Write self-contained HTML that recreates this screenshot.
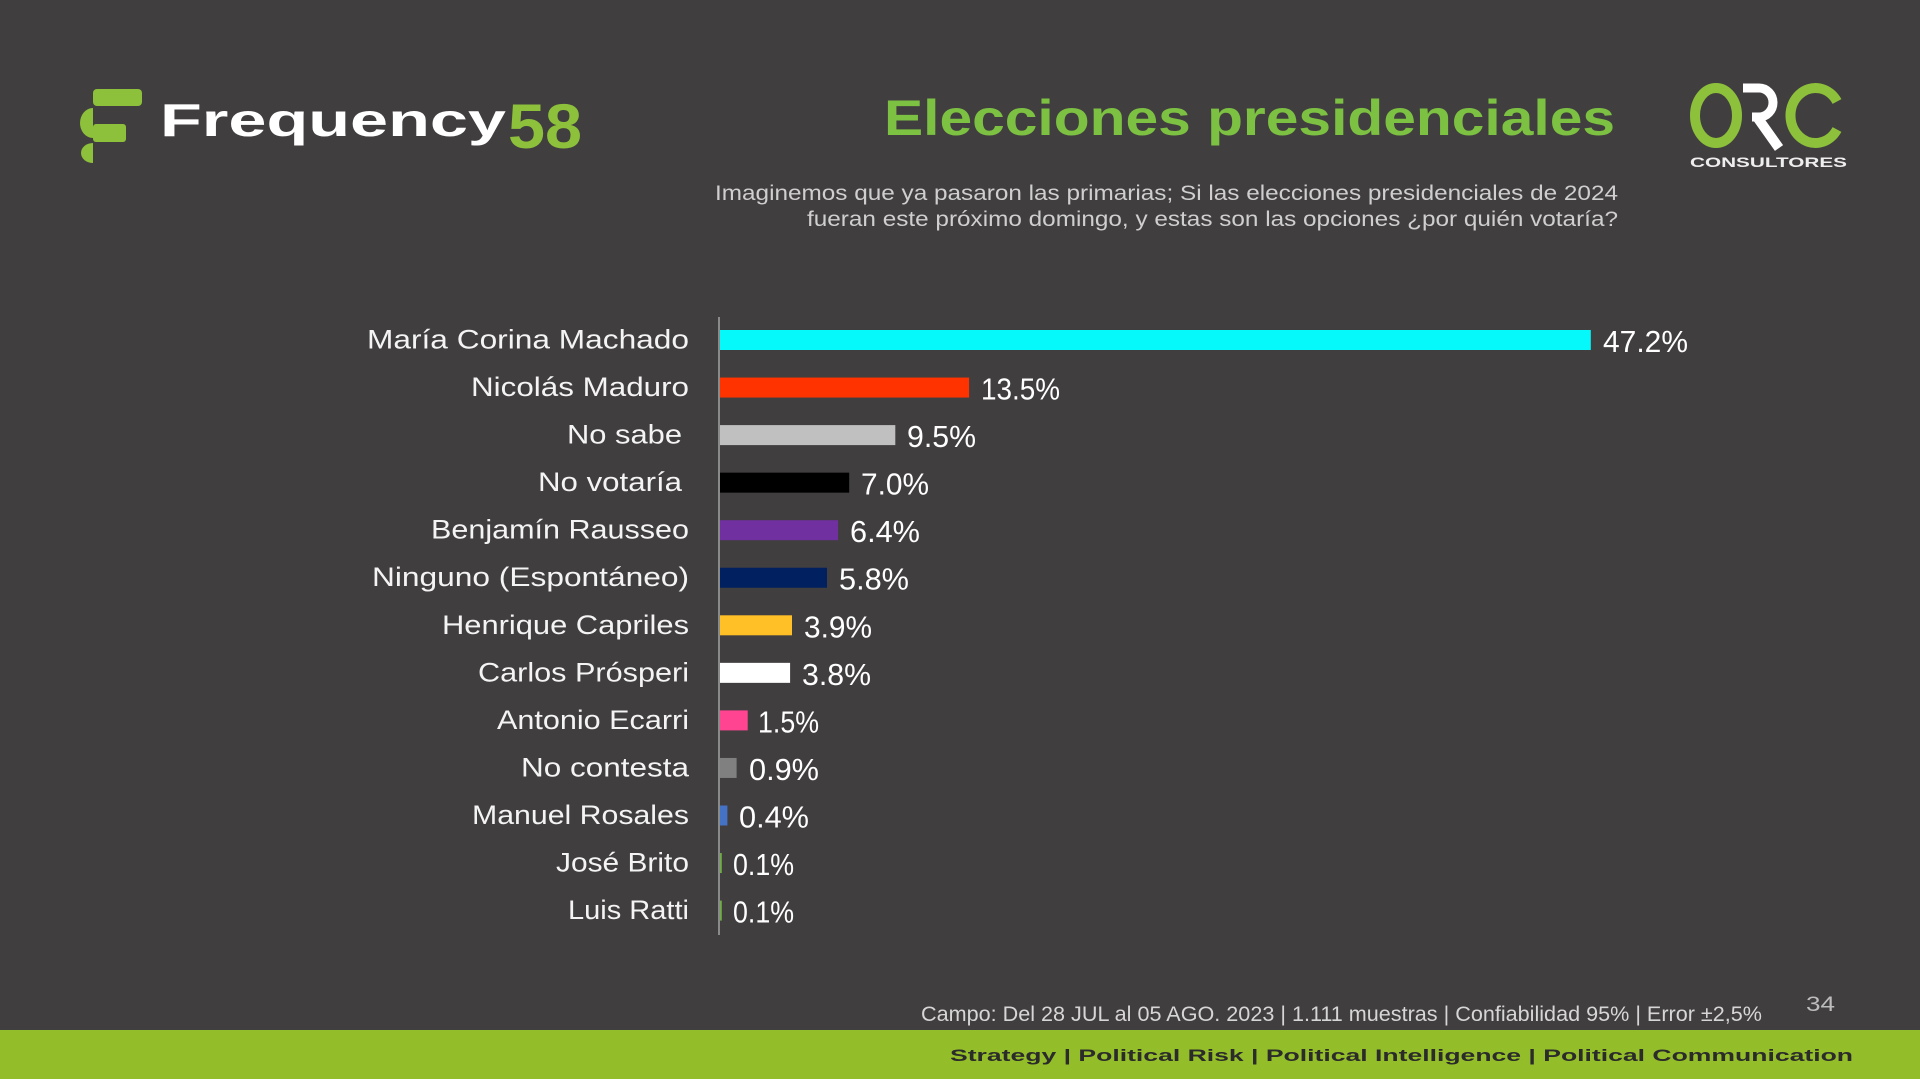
<!DOCTYPE html>
<html>
<head>
<meta charset="utf-8">
<style>
html,body{margin:0;padding:0;background:#413e3f;}
svg{display:block;}
text{font-family:"Liberation Sans",sans-serif;}
</style>
</head>
<body>
<svg width="1920" height="1079" viewBox="0 0 1920 1079" xmlns="http://www.w3.org/2000/svg">
<rect x="0" y="0" width="1920" height="1079" fill="#413e3f"/>

<!-- Frequency58 logo -->
<g fill="#8dc03b">
  <rect x="93" y="89" width="49" height="17" rx="4"/>
  <rect x="93" y="124" width="33" height="18" rx="3"/>
  <path d="M93,108 A13,15 0 0 0 93,138 Z"/>
  <path d="M93,143 A12,10 0 0 0 93,163 Z"/>
</g>
<text x="160" y="136" font-size="46" font-weight="bold" fill="#ffffff" textLength="346" lengthAdjust="spacingAndGlyphs">Frequency</text>
<text x="508" y="148" font-size="63" font-weight="bold" fill="#8dc03b" textLength="74" lengthAdjust="spacingAndGlyphs">58</text>

<!-- Title -->
<text x="1615" y="135" text-anchor="end" font-size="50" font-weight="bold" fill="#7cc142" textLength="731" lengthAdjust="spacingAndGlyphs">Elecciones presidenciales</text>

<!-- Subtitle -->
<text x="1618" y="200" text-anchor="end" font-size="21" fill="#cfcfcf" textLength="903" lengthAdjust="spacingAndGlyphs">Imaginemos que ya pasaron las primarias; Si las elecciones presidenciales de 2024</text>
<text x="1618" y="226" text-anchor="end" font-size="21" fill="#cfcfcf" textLength="811" lengthAdjust="spacingAndGlyphs">fueran este próximo domingo, y estas son las opciones ¿por quién votaría?</text>

<!-- ORC logo -->
<ellipse cx="1716" cy="115.5" rx="21" ry="27.5" fill="none" stroke="#8dc03b" stroke-width="10"/>
<path d="M1743,88 H1759 A14,14.5 0 0 1 1759,117 H1752" fill="none" stroke="#ffffff" stroke-width="9"/>
<path d="M1757,117 L1779,148" fill="none" stroke="#ffffff" stroke-width="10"/>
<path d="M1837,101.5 A25,27.5 0 1 0 1837,129.5" fill="none" stroke="#8dc03b" stroke-width="10"/>
<text x="1690" y="167" font-size="14" font-weight="bold" fill="#eeeeee" textLength="157" lengthAdjust="spacingAndGlyphs">CONSULTORES</text>

<!-- Axis -->
<line x1="719" y1="317" x2="719" y2="935" stroke="#8a8a8a" stroke-width="2"/>

<!-- Bars -->
<rect x="720" y="330" width="870.8" height="20" fill="#05f8fa"/>
<rect x="720" y="377.55" width="249.1" height="20" fill="#ff3300"/>
<rect x="720" y="425.1" width="175.3" height="20" fill="#c0c0c0"/>
<rect x="720" y="472.65" width="129.2" height="20" fill="#000000"/>
<rect x="720" y="520.2" width="118.1" height="20" fill="#7030a0"/>
<rect x="720" y="567.75" width="107.0" height="20" fill="#002060"/>
<rect x="720" y="615.3" width="72.0" height="20" fill="#ffbf26"/>
<rect x="720" y="662.85" width="70.1" height="20" fill="#ffffff"/>
<rect x="720" y="710.4" width="27.7" height="20" fill="#ff4491"/>
<rect x="720" y="757.95" width="16.6" height="20" fill="#808080"/>
<rect x="720" y="805.5" width="7.4" height="20" fill="#4472c4"/>
<rect x="720" y="853.05" width="1.8" height="20" fill="#70ad47"/>
<rect x="720" y="900.6" width="1.8" height="20" fill="#70ad47"/>

<!-- Category labels -->
<g font-size="27" fill="#f4f4f4" text-anchor="end">
  <text x="689" y="348.5" textLength="322" lengthAdjust="spacingAndGlyphs">María Corina Machado</text>
  <text x="689" y="396" textLength="218" lengthAdjust="spacingAndGlyphs">Nicolás Maduro</text>
  <text x="682" y="443.6" textLength="115" lengthAdjust="spacingAndGlyphs">No sabe</text>
  <text x="682" y="491.1" textLength="144" lengthAdjust="spacingAndGlyphs">No votaría</text>
  <text x="689" y="538.7" textLength="258" lengthAdjust="spacingAndGlyphs">Benjamín Rausseo</text>
  <text x="689" y="586.2" textLength="317" lengthAdjust="spacingAndGlyphs">Ninguno (Espontáneo)</text>
  <text x="689" y="633.8" textLength="247" lengthAdjust="spacingAndGlyphs">Henrique Capriles</text>
  <text x="689" y="681.3" textLength="211" lengthAdjust="spacingAndGlyphs">Carlos Prósperi</text>
  <text x="689" y="728.9" textLength="192" lengthAdjust="spacingAndGlyphs">Antonio Ecarri</text>
  <text x="689" y="776.4" textLength="168" lengthAdjust="spacingAndGlyphs">No contesta</text>
  <text x="689" y="824" textLength="217" lengthAdjust="spacingAndGlyphs">Manuel Rosales</text>
  <text x="689" y="871.5" textLength="133" lengthAdjust="spacingAndGlyphs">José Brito</text>
  <text x="689" y="919.1" textLength="121" lengthAdjust="spacingAndGlyphs">Luis Ratti</text>
</g>

<!-- Value labels -->
<g font-size="31" fill="#ffffff">
  <text x="1603" y="352" textLength="85" lengthAdjust="spacingAndGlyphs">47.2%</text>
  <text x="981" y="399.5" textLength="79" lengthAdjust="spacingAndGlyphs">13.5%</text>
  <text x="907" y="447.1" textLength="69" lengthAdjust="spacingAndGlyphs">9.5%</text>
  <text x="861" y="494.6" textLength="68" lengthAdjust="spacingAndGlyphs">7.0%</text>
  <text x="850" y="542.2" textLength="70" lengthAdjust="spacingAndGlyphs">6.4%</text>
  <text x="839" y="589.7" textLength="70" lengthAdjust="spacingAndGlyphs">5.8%</text>
  <text x="804" y="637.3" textLength="68" lengthAdjust="spacingAndGlyphs">3.9%</text>
  <text x="802" y="684.8" textLength="69" lengthAdjust="spacingAndGlyphs">3.8%</text>
  <text x="758" y="732.4" textLength="61" lengthAdjust="spacingAndGlyphs">1.5%</text>
  <text x="749" y="779.9" textLength="70" lengthAdjust="spacingAndGlyphs">0.9%</text>
  <text x="739" y="827.5" textLength="70" lengthAdjust="spacingAndGlyphs">0.4%</text>
  <text x="733" y="875" textLength="61" lengthAdjust="spacingAndGlyphs">0.1%</text>
  <text x="733" y="922.6" textLength="61" lengthAdjust="spacingAndGlyphs">0.1%</text>
</g>

<!-- Footer note -->
<text x="921" y="1021" font-size="21" fill="#d6d6d6" textLength="841" lengthAdjust="spacingAndGlyphs">Campo: Del 28 JUL al 05 AGO.  2023 | 1.111  muestras | Confiabilidad 95% | Error ±2,5%</text>
<text x="1806" y="1011" font-size="21" fill="#bdbdbd" textLength="29" lengthAdjust="spacingAndGlyphs">34</text>

<!-- Green band -->
<rect x="0" y="1030" width="1920" height="49" fill="#94be29"/>
<text x="950" y="1061" font-size="16.5" font-weight="bold" fill="#2b2b2b" textLength="903" lengthAdjust="spacingAndGlyphs">Strategy | Political Risk | Political Intelligence | Political Communication</text>
</svg>
</body>
</html>
